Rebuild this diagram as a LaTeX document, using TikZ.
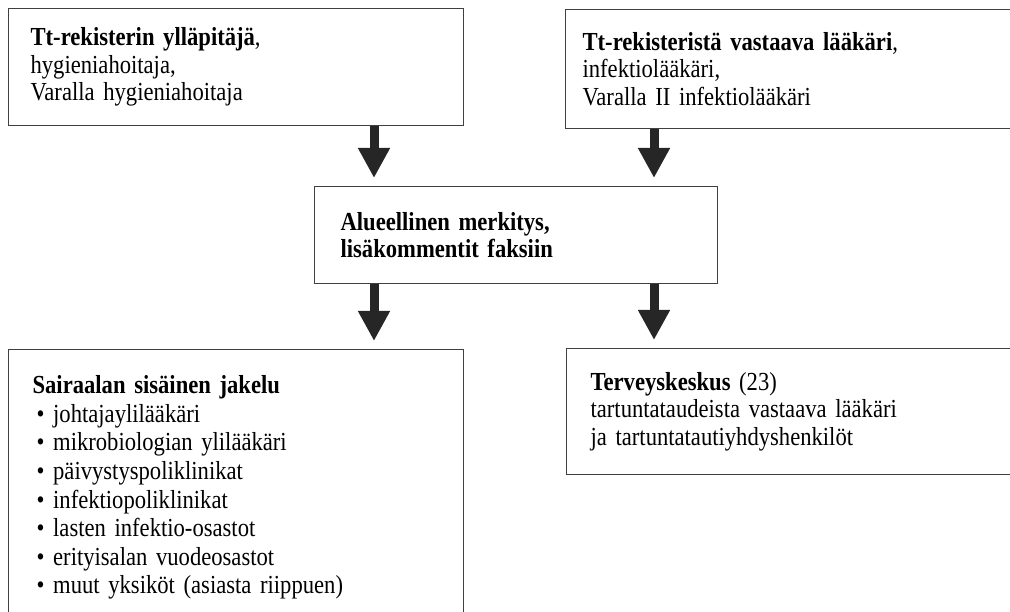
\documentclass[tikz,border=0pt]{standalone}
\usepackage{fontspec}
\setmainfont{Liberation Serif}[FakeStretch=0.87]
\usetikzlibrary{arrows.meta}

\newcommand{\itm}{\hspace*{4pt}\textbullet\ }
\newcommand{\boxfont}{\fontsize{26}{27.5}\selectfont\spaceskip=5pt plus 1pt minus 1pt\relax}
\newcommand{\listfont}{\fontsize{26}{28.6}\selectfont\spaceskip=5pt plus 1pt minus 1pt\relax}

\begin{document}
\begin{tikzpicture}[x=1pt,y=-1pt]

\tikzset{box/.style = {draw=black!75, line width=1.2pt, rectangle, anchor=north west, align=left, font=\boxfont}}
\tikzset{flow/.style = {-{Triangle[width=30pt,length=30pt]}, line width=9pt, draw=black!85, shorten >=8pt}}

\useasboundingbox (0,0) rectangle (1010,612);
\clip (0,0) rectangle (1010,612);

%boxes
\node[box, inner xsep=22pt, text width=411pt, minimum height=117pt] (tl) at (8,8)
  {\textbf{Tt-rekisterin ylläpitäjä},\\hygieniahoitaja,\\Varalla hygieniahoitaja};
\node[box, inner xsep=17pt, text width=426pt, minimum height=119pt] (tr) at (565,9)
  {\textbf{Tt-rekisteristä vastaava lääkäri},\\infektiolääkäri,\\Varalla II infektiolääkäri};
\node[box, inner xsep=26pt, text width=351pt, minimum height=97pt] (mid) at (314,186)
  {\textbf{Alueellinen merkitys,}\\\textbf{lisäkommentit faksiin}};
\node[box, inner xsep=24pt, inner ysep=26pt, text width=407pt, font=\listfont] (bl) at (8,349)
  {\textbf{Sairaalan sisäinen jakelu}\\
   \itm johtajaylilääkäri\\
   \itm mikrobiologian ylilääkäri\\
   \itm päivystyspoliklinikat\\
   \itm infektiopoliklinikat\\
   \itm lasten infektio-osastot\\
   \itm erityisalan vuodeosastot\\
   \itm muut yksiköt (asiasta riippuen)};
\node[box, inner xsep=24pt, text width=412pt, minimum height=126pt] (br) at (566,348)
  {\textbf{Terveyskeskus} (23)\\tartuntataudeista vastaava lääkäri\\ja tartuntatautiyhdyshenkilöt};

%arrows
\coordinate (lx) at (374,0);
\coordinate (rx) at (654,0);
\draw[flow] (tl.south -| lx) -- (mid.north -| lx);
\draw[flow] (tr.south -| rx) -- (mid.north -| rx);
\draw[flow] (mid.south -| lx) -- (bl.north -| lx);
\draw[flow] (mid.south -| rx) -- (br.north -| rx);

\end{tikzpicture}
\end{document}
